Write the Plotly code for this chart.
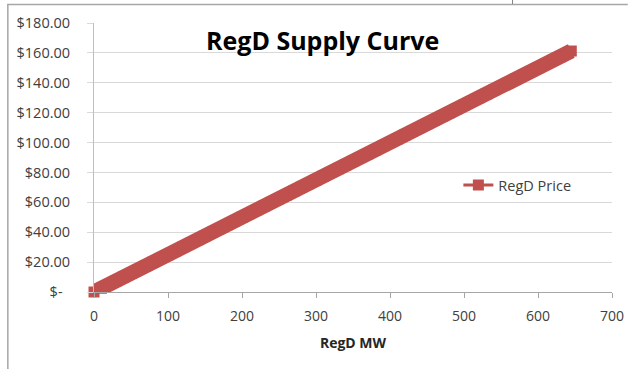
import plotly.graph_objects as go

# RegD supply curve: offered MW vs. clearing price
regd_mw = [0, 10, 20, 30, 40, 50, 60, 70, 80, 90, 100, 110, 120, 130, 140,
           150, 160, 170, 180, 190, 200, 210, 220, 230, 240, 250, 260, 270,
           280, 290, 300, 310, 320, 330, 340, 350, 360, 370, 380, 390, 400,
           410, 420, 430, 440, 450, 460, 470, 480, 490, 500, 510, 520, 530,
           540, 550, 560, 570, 580, 590, 600, 610, 620, 630, 640, 645]
regd_price = [0.0, 2.5, 5.0, 7.5, 10.0, 12.5, 15.0, 17.5, 20.0, 22.5, 25.0,
              27.5, 30.0, 32.5, 35.0, 37.5, 40.0, 42.5, 45.0, 47.5, 50.0,
              52.5, 55.0, 57.5, 60.0, 62.5, 65.0, 67.5, 70.0, 72.5, 75.0,
              77.5, 80.0, 82.5, 85.0, 87.5, 90.0, 92.5, 95.0, 97.5, 100.0,
              102.5, 105.0, 107.5, 110.0, 112.5, 115.0, 117.5, 120.0, 122.5,
              125.0, 127.5, 130.0, 132.5, 135.0, 137.5, 140.0, 142.5, 145.0,
              147.5, 150.0, 152.5, 155.0, 157.5, 160.0, 161.25]

price_ticks = [0, 20, 40, 60, 80, 100, 120, 140, 160, 180]
price_tick_text = ["$-\u00a0\u00a0", "$20.00", "$40.00", "$60.00", "$80.00",
                   "$100.00", "$120.00", "$140.00", "$160.00", "$180.00"]
mw_ticks = [0, 100, 200, 300, 400, 500, 600, 700]

W, H = 636, 369
ML, MR, MT, MB = 94, 16, 23, 77

def px_x(p):
    return (p - ML) / (W - ML - MR)

def px_y(p):
    return (H - MB - p) / (H - MT - MB)

RED = "#C0504D"
FONT = "'Open Sans', Lato, sans-serif"

fig = go.Figure()
# thick band for the curve body
fig.add_trace(go.Scatter(
    x=regd_mw, y=regd_price, mode="lines", showlegend=False, hoverinfo="skip",
    line=dict(color=RED, width=15), cliponaxis=False,
))
# square markers along the curve (also the legend entry)
fig.add_trace(go.Scatter(
    x=regd_mw, y=regd_price, name="RegD Price", mode="lines+markers",
    line=dict(color=RED, width=3),
    marker=dict(symbol="square", size=11, color=RED),
    cliponaxis=False,
))

fig.update_layout(
    width=W, height=H,
    margin=dict(l=ML, r=MR, t=MT, b=MB),
    paper_bgcolor="white", plot_bgcolor="white",
    font=dict(family=FONT, color="#404040", size=13),
    showlegend=True,
    legend=dict(x=px_x(464), y=px_y(185), xanchor="left", yanchor="middle",
                font=dict(size=14.5, color="#404040"), bgcolor="rgba(0,0,0,0)",
                itemwidth=30),
    xaxis=dict(range=[0, 700], tickvals=mw_ticks, showgrid=False,
               showline=True, linecolor="#A6A6A6", linewidth=1,
               ticks="outside", ticklen=5, tickcolor="#A6A6A6",
               ticklabelstandoff=6,
               tickfont=dict(size=14, color="#404040"),
               title=dict(text="<b>RegD MW</b>", font=dict(size=14, color="#262626"),
                          standoff=14),
               zeroline=False, fixedrange=True),
    yaxis=dict(range=[0, 180], tickvals=price_ticks, ticktext=price_tick_text,
               showgrid=True, gridcolor="#D9D9D9", gridwidth=1,
               showline=True, linecolor="#BFBFBF", linewidth=1,
               ticks="outside", ticklen=6, tickcolor="#D9D9D9",
               ticklabelstandoff=14,
               tickfont=dict(size=14.5, color="#404040"),
               zeroline=False, fixedrange=True),
    annotations=[dict(text="<b>RegD Supply Curve</b>", x=px_x(326), y=px_y(40),
                      xref="paper", yref="paper", showarrow=False,
                      xanchor="center", yanchor="middle",
                      font=dict(size=25, color="black", family=FONT))],
    shapes=[
        dict(type="line", xref="paper", yref="paper",
             x0=px_x(6.5), x1=px_x(6.5), y0=px_y(4), y1=px_y(369),
             line=dict(color="#A6A6A6", width=1.5)),
        dict(type="line", xref="paper", yref="paper",
             x0=px_x(6), x1=px_x(636), y0=px_y(4.5), y1=px_y(4.5),
             line=dict(color="#A6A6A6", width=1.5)),
        dict(type="line", xref="paper", yref="paper",
             x0=px_x(519), x1=px_x(519), y0=px_y(0), y1=px_y(4),
             line=dict(color="#808080", width=1)),
    ],
)

fig.write_html("out.html")
